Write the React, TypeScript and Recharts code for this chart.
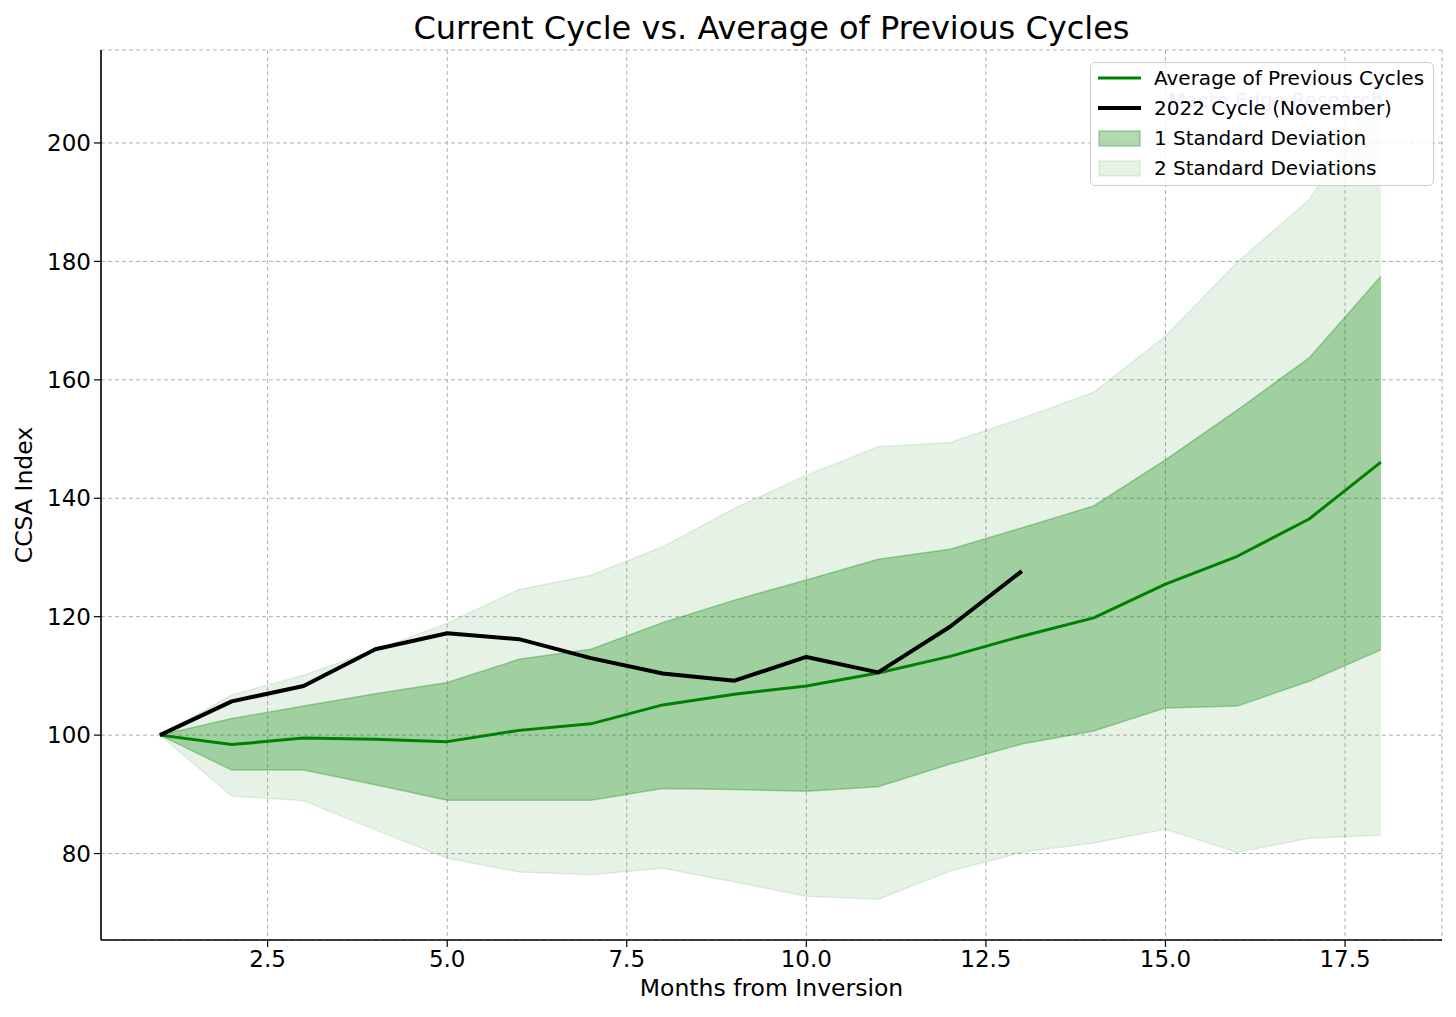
import React from "react";
import { ComposedChart, Area, Line, XAxis, YAxis, CartesianGrid } from "recharts";

// months since the curve inversion
const months = [1, 2, 3, 4, 5, 6, 7, 8, 9, 10, 11, 12, 13, 14, 15, 16, 17, 18];
const avgPrev = [100, 98.4, 99.5, 99.3, 98.9, 100.8, 101.9, 105.1, 106.9, 108.3, 110.5, 113.3, 116.7, 119.8, 125.5, 130.2, 136.5, 146.1];
const cycle2022 = [100, 105.7, 108.3, 114.5, 117.2, 116.2, 113.0, 110.4, 109.2, 113.2, 110.6, 118.3, 127.7];
const sd1Upper = [100, 102.8, 104.9, 107.0, 108.9, 112.8, 114.5, 119.0, 122.8, 126.2, 129.7, 131.4, 135.0, 138.7, 146.5, 154.9, 163.7, 177.5];
const sd1Lower = [100, 94.1, 94.1, 91.6, 89.0, 89.0, 89.0, 91.0, 90.8, 90.5, 91.3, 95.1, 98.5, 100.7, 104.6, 104.9, 109.1, 114.4];
const sd2Upper = [100, 106.8, 110.1, 114.4, 118.9, 124.6, 127.0, 131.8, 138.3, 143.9, 148.7, 149.4, 153.5, 157.9, 167.4, 179.9, 190.4, 208.9];
const sd2Lower = [100, 89.7, 88.9, 84.0, 79.2, 76.9, 76.4, 77.5, 75.2, 72.8, 72.3, 77.0, 80.2, 81.8, 84.1, 80.2, 82.6, 83.1];

const xTicks = [2.5, 5, 7.5, 10, 12.5, 15, 17.5];
const yTicks = [80, 100, 120, 140, 160, 180, 200];

const legendItems = [
  { label: "Average of Previous Cycles", kind: "line", color: "#008000", width: 3 },
  { label: "2022 Cycle (November)", kind: "line", color: "#000000", width: 4 },
  { label: "1 Standard Deviation", kind: "patch", color: "rgba(0,128,0,0.3)", width: 0 },
  { label: "2 Standard Deviations", kind: "patch", color: "rgba(0,128,0,0.1)", width: 0 },
];

const data = months.map((m, i) => ({
  month: m,
  avg: avgPrev[i],
  cycle: i < cycle2022.length ? cycle2022[i] : null,
  sd1: [sd1Lower[i], sd1Upper[i]],
  sd2: [sd2Lower[i], sd2Upper[i]],
}));

const font = "'DejaVu Sans', sans-serif";
const tickStyle = { fontSize: 23, fill: "#000", fontFamily: font };

function LegendBox() {
  return (
    <div
      style={{
        position: "absolute",
        left: 1082,
        top: 54,
        width: 344,
        height: 124,
        boxSizing: "border-box",
        border: "1.5px solid #cccccc",
        borderRadius: 5,
        background: "rgba(255,255,255,0.8)",
        fontFamily: font,
        fontSize: 20,
      }}
    >
      {legendItems.map((it, i) => (
        <div key={it.label} style={{ position: "absolute", left: 0, top: i * 30, height: 30, width: "100%" }}>
          <svg width={60} height={30} style={{ position: "absolute", left: 0, top: 0 }}>
            {it.kind === "line" ? (
              <line x1={7} x2={50} y1={15} y2={15} stroke={it.color} strokeWidth={it.width} />
            ) : (
              <rect x={8} y={8} width={41} height={15} fill={it.color} stroke={it.color} strokeWidth={1.5} />
            )}
          </svg>
          <span style={{ position: "absolute", left: 63, top: 0, lineHeight: "30px", whiteSpace: "nowrap", color: "#000" }}>
            {it.label}
          </span>
        </div>
      ))}
    </div>
  );
}

export default function App() {
  return (
    <div style={{ position: "relative", width: 1440, height: 1001, fontFamily: font }}>
      <ComposedChart
        width={1440}
        height={1001}
        data={data}
        margin={{ top: 42, right: 6, bottom: 0, left: 0 }}
      >
        <CartesianGrid stroke="#b0b0b0" strokeDasharray="4 3" strokeWidth={1} />
        <XAxis
          dataKey="month"
          type="number"
          domain={[0.18, 18.85]}
          allowDataOverflow
          ticks={xTicks}
          tickFormatter={(v: number) => v.toFixed(1)}
          height={69}
          tick={tickStyle}
          tickSize={7}
          tickMargin={4}
          axisLine={{ stroke: "#000", strokeWidth: 1.6 }}
          tickLine={{ stroke: "#000", strokeWidth: 1.2 }}
        />
        <YAxis
          type="number"
          domain={[65.4, 215.7]}
          allowDataOverflow
          ticks={yTicks}
          width={93}
          tick={tickStyle}
          tickSize={7}
          tickMargin={3}
          axisLine={{ stroke: "#000", strokeWidth: 1.6 }}
          tickLine={{ stroke: "#000", strokeWidth: 1.2 }}
        />
        <Area
          type="linear"
          dataKey="sd2"
          fill="#008000"
          fillOpacity={0.1}
          stroke="#008000"
          strokeOpacity={0.1}
          strokeWidth={1.5}
          dot={false}
          activeDot={false}
          isAnimationActive={false}
        />
        <Area
          type="linear"
          dataKey="sd1"
          fill="#008000"
          fillOpacity={0.3}
          stroke="#008000"
          strokeOpacity={0.3}
          strokeWidth={1.5}
          dot={false}
          activeDot={false}
          isAnimationActive={false}
        />
        <Line
          type="linear"
          dataKey="avg"
          stroke="#008000"
          strokeWidth={3}
          strokeLinejoin="round"
          dot={false}
          activeDot={false}
          isAnimationActive={false}
        />
        <Line
          type="linear"
          dataKey="cycle"
          stroke="#000000"
          strokeWidth={4}
          strokeLinejoin="round"
          dot={false}
          activeDot={false}
          connectNulls={false}
          isAnimationActive={false}
        />
      </ComposedChart>

      <div
        style={{
          position: "absolute",
          left: 93,
          width: 1341,
          top: 4,
          textAlign: "center",
          fontSize: 32,
          lineHeight: "32px",
          color: "#000",
        }}
      >
        Current Cycle vs. Average of Previous Cycles
      </div>
      <div
        style={{
          position: "absolute",
          left: 93,
          width: 1341,
          top: 969,
          textAlign: "center",
          fontSize: 23.5,
          lineHeight: "23.5px",
          color: "#000",
        }}
      >
        Months from Inversion
      </div>
      <div
        style={{
          position: "absolute",
          left: 16 - 150,
          top: 487 - 12,
          width: 300,
          height: 24,
          textAlign: "center",
          fontSize: 23.5,
          lineHeight: "24px",
          transform: "rotate(-90deg)",
          color: "#000",
        }}
      >
        CCSA Index
      </div>

      {/* faint watermark that sits behind the legend */}
      <div
        style={{
          position: "absolute",
          left: 1160,
          top: 80,
          fontSize: 20,
          lineHeight: "24px",
          color: "#a8a8f0",
          whiteSpace: "nowrap",
        }}
      >
        Macro Edge Research
      </div>
      <LegendBox />
    </div>
  );
}
